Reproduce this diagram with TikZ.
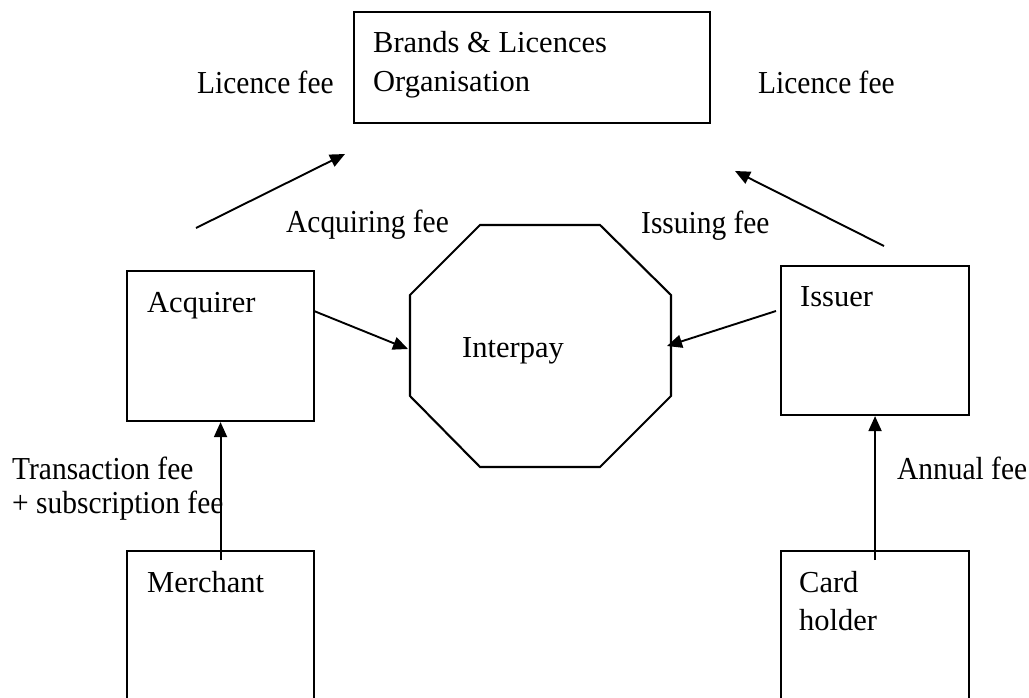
\documentclass[tikz,border=0pt]{standalone}
\usepackage{fontspec}
\setmainfont{Liberation Serif}
\newfontfamily\labelfont[FakeStretch=0.92]{Liberation Serif}
\usetikzlibrary{arrows.meta}
\begin{document}
\begin{tikzpicture}[x=1pt,y=-1pt,
  box/.style={draw, line width=2.1pt, rectangle, inner sep=0pt, anchor=north west},
  boxtext/.style={anchor=base west, inner sep=0pt, font=\fontsize{30.5}{36}\selectfont},
  fee/.style={anchor=base west, inner sep=0pt, font=\labelfont\fontsize{32}{38}\selectfont},
  flow/.style={line width=1.9pt, -{Triangle[length=15pt,width=13pt]}}]
\useasboundingbox (0,0) rectangle (1029,697);
\clip (0,0) rectangle (1029,697);
% boxes
\node[box, minimum width=356pt, minimum height=111pt] (brand) at (353,11) {};
\node[box, minimum width=187pt, minimum height=150pt] (acq) at (126,270) {};
\node[box, minimum width=188pt, minimum height=149pt] (iss) at (780,265) {};
\node[box, minimum width=187pt, minimum height=200pt] (merch) at (126,550) {};
\node[box, minimum width=188pt, minimum height=200pt] (card) at (780,550) {};
% octagon
\draw[line width=2.1pt] (480,225) -- (600,225) -- (671,295) -- (671,396) -- (600,467) -- (480,467) -- (410,396) -- (410,295) -- cycle;
\coordinate (octW) at (408,349);
\coordinate (octE) at (667,346);
% box texts
\node[boxtext] (t1) at (373,52) {Brands \& Licences};
\node[boxtext] (t2) at (373,91) {Organisation};
\node[boxtext] (t3) at (147,312) {Acquirer};
\node[boxtext] (interpay) at (462,357) {Interpay};
\node[boxtext] (t5) at (800,306) {Issuer};
\node[boxtext] (t6) at (147,592) {Merchant};
\node[boxtext] (t7) at (799,592) {Card};
\node[boxtext] (t8) at (799,630) {holder};
% labels
\node[fee] (l1) at (197,93) {Licence fee};
\node[fee] (l2) at (758,93) {Licence fee};
\node[fee] (l3) at (286,232) {Acquiring fee};
\node[fee] (l4) at (641,233) {Issuing fee};
\node[fee] (l5) at (12,479) {Transaction fee};
\node[fee] (l6) at (12,513) {+ subscription fee};
\node[fee] (l7) at (897,479) {Annual fee};
% free arrow ends
\coordinate (la0) at (196,228);
\coordinate (la1) at (345,154);
\coordinate (ra0) at (884,246);
\coordinate (ra1) at (735,171);
\coordinate (acqE) at (314,311);
\coordinate (issW) at (776,311);
% connectors
\draw[flow] (la0) -- (la1);
\draw[flow] (ra0) -- (ra1);
\draw[flow] (acqE) -- (octW);
\draw[flow] (issW) -- (octE);
\draw[flow] ([yshift=-10pt]merch.north) -- (acq.south);
\draw[flow] ([yshift=-10pt]card.north) -- (iss.south);
\end{tikzpicture}
\end{document}
